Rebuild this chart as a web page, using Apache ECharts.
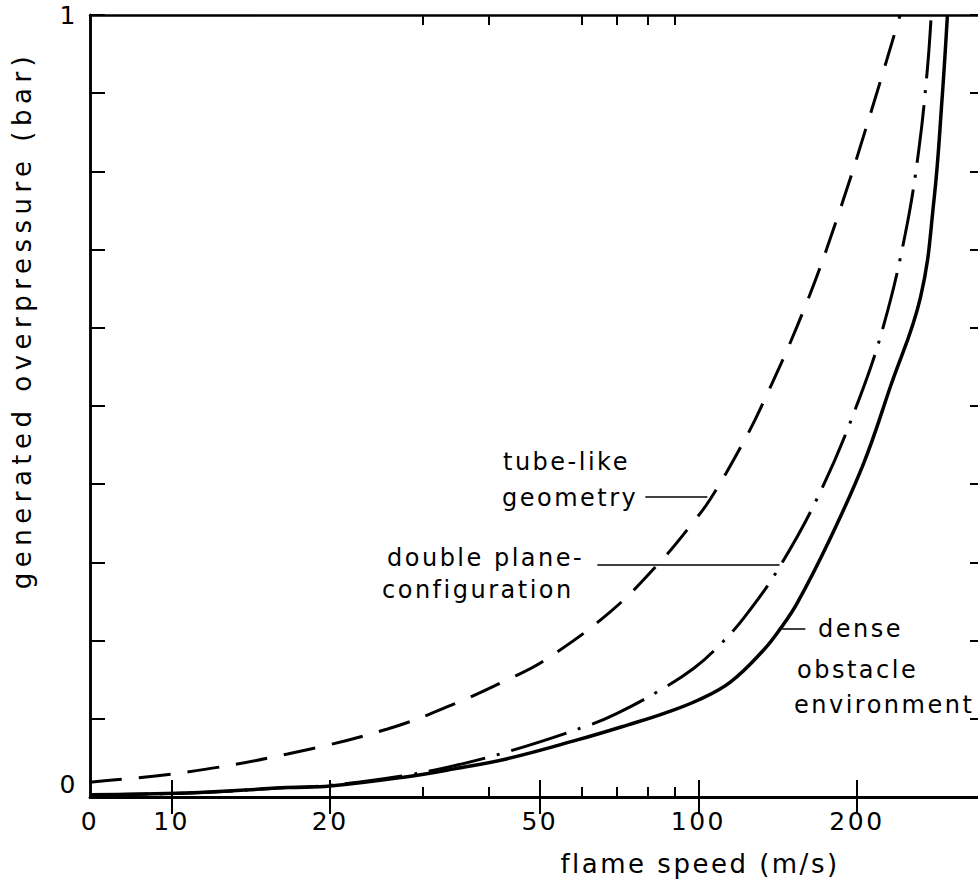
<!DOCTYPE html>
<html>
<head>
<meta charset="utf-8">
<title>generated overpressure vs flame speed</title>
<script src="https://cdn.jsdelivr.net/npm/echarts@6/dist/echarts.min.js"></script>
<style>
  html, body { margin: 0; padding: 0; background: #fff; }
  #chart { width: 978px; height: 881px; }
  /* plotter lettering is spaced out a bit */
  #chart text { letter-spacing: 2.5px; }
  #chart text[transform^="matrix"] { letter-spacing: 5.5px; }
</style>
</head>
<body>
<div id="chart"></div>
<script>
// x axis: flame speed (m/s), log scale, left edge is labelled "0"
var speedMin = 7;
var speedMax = 350;
var speedLabels = [7, 10, 20, 50, 100, 200];
var speedMajorTicks = [10, 20, 50, 100, 200];
var speedMinorTicks = [30, 40, 60, 70, 80, 90];

// y axis: generated overpressure (bar)
var pressureTopLabel = [1];
var pressureBottomLabel = [0];

// tube-like geometry (dashed)
var tubeSpeed = [7, 10.7, 16.6, 25.7, 34.4, 43.4, 51.1, 68.1, 84.7, 98.2, 105.6, 118.6, 131, 159, 184, 212, 241.5];
var tubePressure = [0.019, 0.032, 0.055, 0.087, 0.119, 0.15, 0.175, 0.237, 0.301, 0.353, 0.382, 0.44, 0.496, 0.625, 0.743, 0.873, 1.0];

// double plane configuration (dash-dot)
var planeSpeed = [7, 10.7, 16.6, 20, 28, 34.4, 44, 61.5, 70.1, 84.3, 98.2, 109.6, 122, 142.5, 170.6, 200.4, 224.5, 247, 262, 272, 276.7];
var planePressure = [0.003, 0.005, 0.012, 0.015, 0.028, 0.04, 0.059, 0.091, 0.107, 0.136, 0.165, 0.194, 0.229, 0.294, 0.391, 0.503, 0.602, 0.72, 0.827, 0.93, 1.0];

// dense obstacle environment (solid)
var denseSpeed = [7, 10.7, 16.6, 20, 28, 34.4, 43.4, 58.9, 73.3, 86.1, 100, 115, 133, 143, 154, 178, 206, 231, 264, 280, 290, 297];
var densePressure = [0.003, 0.005, 0.012, 0.014, 0.026, 0.036, 0.049, 0.073, 0.092, 0.107, 0.124, 0.147, 0.188, 0.215, 0.248, 0.331, 0.427, 0.523, 0.639, 0.763, 0.891, 1.0];

var FONT = 'DejaVu Sans';

function pairs(xs, ys) {
  var out = [];
  for (var i = 0; i < xs.length; i++) out.push([xs[i], ys[i]]);
  return out;
}

// one log x axis; several are stacked to get long + short ticks on both sides
function speedAxis(position, ticks, tickLen, withLabels) {
  return {
    type: 'log',
    logBase: 10,
    min: speedMin,
    max: speedMax,
    position: position,
    axisLine: { show: true, lineStyle: { color: '#000', width: 2.5 } },
    axisTick: { show: true, inside: true, length: tickLen, customValues: ticks,
      lineStyle: { color: '#000', width: 2 } },
    axisLabel: withLabels ? {
      show: true, margin: 12, customValues: speedLabels,
      color: '#000', fontFamily: FONT, fontSize: 25,
      formatter: function (v) { return v === speedMin ? '0' : String(v); }
    } : { show: false },
    splitLine: { show: false },
    minorTick: { show: false }
  };
}

function pressureAxis(position, labels, vAlign) {
  return {
    type: 'value',
    min: 0,
    max: 1,
    interval: 0.1,
    position: position,
    // the right frame falls just outside the picture, only its ticks show
    axisLine: { show: position === 'left', lineStyle: { color: '#000', width: 2.5 } },
    axisTick: { show: true, inside: true, length: 15, lineStyle: { color: '#000', width: 2 } },
    axisLabel: labels ? {
      show: true, margin: 12, customValues: labels, verticalAlign: vAlign,
      color: '#000', fontFamily: FONT, fontSize: 25
    } : { show: false },
    splitLine: { show: false }
  };
}

function leader(from, to) {
  return {
    silent: true,
    symbol: 'none',
    label: { show: false },
    lineStyle: { color: '#000', width: 1.5, type: 'solid' },
    data: [[{ coord: from }, { coord: to }]]
  };
}

function note(text, x, y) {
  return {
    type: 'text', x: x, y: y, silent: true,
    style: { text: text, fill: '#000', font: '24px "' + FONT + '"', verticalAlign: 'middle' }
  };
}

var chart = echarts.init(document.getElementById('chart'), null, { renderer: 'svg' });

chart.setOption({
  animation: false,
  backgroundColor: '#fff',
  grid: { left: 90, right: -7, top: 15, bottom: 84, containLabel: false, outerBoundsMode: 'none' },
  xAxis: [
    speedAxis('bottom', speedMajorTicks, 17, true),
    speedAxis('bottom', speedMinorTicks, 10, false),
    speedAxis('top', speedMajorTicks, 17, false),
    speedAxis('top', speedMinorTicks, 10, false)
  ],
  yAxis: [
    pressureAxis('left', pressureBottomLabel, 'bottom'),
    pressureAxis('left', pressureTopLabel, 'middle'),
    pressureAxis('right', null)
  ],
  series: [
    {
      name: 'tube-like geometry',
      type: 'line',
      data: pairs(tubeSpeed, tubePressure),
      showSymbol: false,
      smooth: 0.4,
      lineStyle: { color: '#000', width: 3, type: [32, 17] },
      markLine: leader([79.3, 0.384], [104, 0.384])
    },
    {
      name: 'double plane configuration',
      type: 'line',
      data: pairs(planeSpeed, planePressure),
      showSymbol: false,
      smooth: 0.4,
      lineStyle: { color: '#000', width: 3, type: [58, 12, 3, 12] },
      markLine: leader([64.3, 0.297], [142.6, 0.297])
    },
    {
      name: 'dense obstacle environment',
      type: 'line',
      data: pairs(denseSpeed, densePressure),
      showSymbol: false,
      smooth: 0.4,
      lineStyle: { color: '#000', width: 3.5, type: 'solid' },
      markLine: leader([144.2, 0.215], [159.6, 0.215])
    }
  ],
  graphic: [
    {
      type: 'text', x: 22, y: 320, rotation: Math.PI / 2, silent: true,
      style: { text: 'generated overpressure (bar)', fill: '#000', font: '26px "' + FONT + '"',
        align: 'center', verticalAlign: 'middle' }
    },
    {
      type: 'text', x: 700, y: 864, silent: true,
      style: { text: 'flame speed (m/s)', fill: '#000', font: '26px "' + FONT + '"',
        align: 'center', verticalAlign: 'middle' }
    },
    note('tube-like', 503, 462),
    note('geometry', 502, 498),
    note('double plane-', 387, 558),
    note('configuration', 382, 590),
    note('dense', 818, 629),
    note('obstacle', 797, 670),
    note('environment', 794, 705)
  ]
});
</script>
</body>
</html>
